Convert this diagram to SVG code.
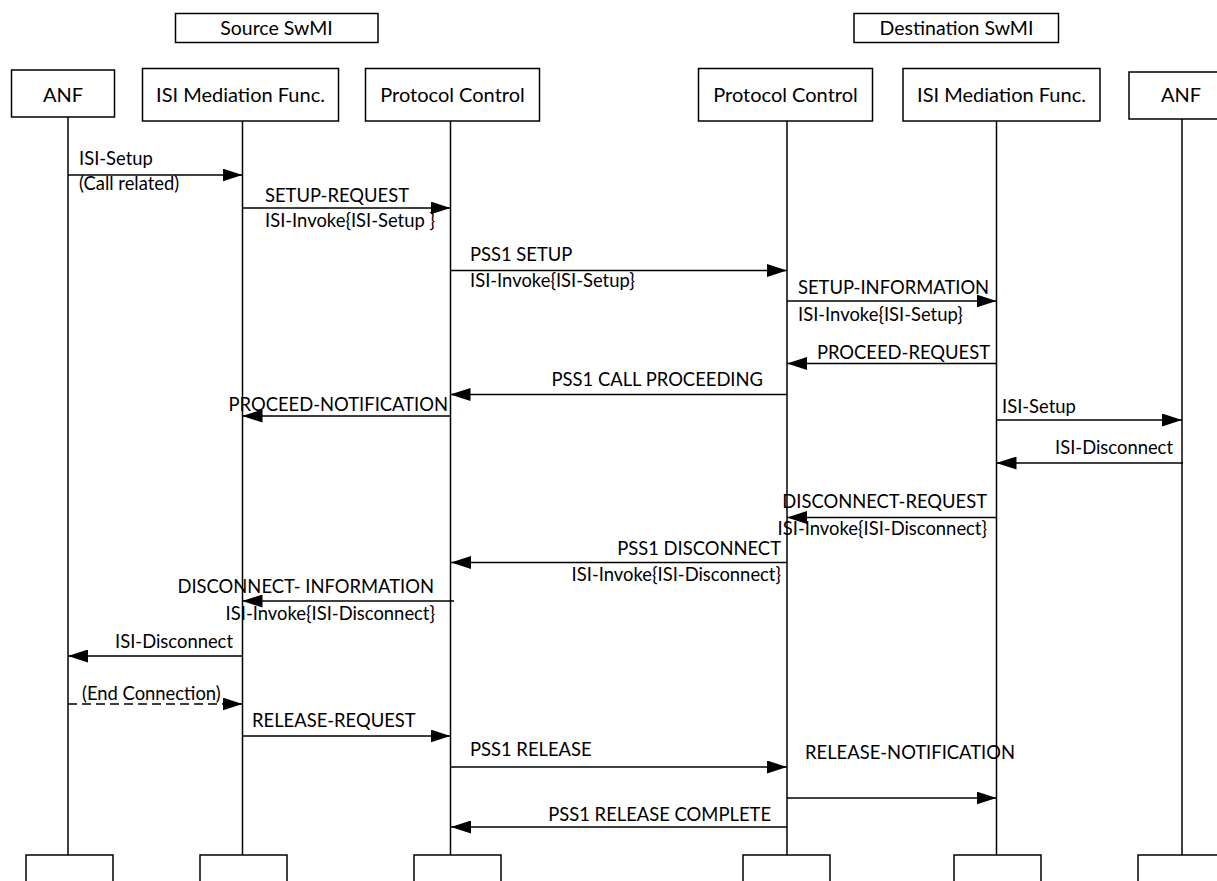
<svg xmlns="http://www.w3.org/2000/svg" width="1217" height="881" viewBox="0 0 1217 881">
<defs>
<style>
.box{fill:#fff;stroke:#000;stroke-width:1.5}
.life{stroke:#000;stroke-width:1.5;fill:none}
.msg{stroke:#000;stroke-width:1.5;fill:none;marker-end:url(#ah)}
.dash{stroke-dasharray:9,5}
text{font-family:Lato,"Open Sans","Liberation Sans",sans-serif;fill:#000}
.t{font-size:18.4px}
.n{font-size:20px;text-anchor:middle}
.h{font-size:19.5px;text-anchor:middle}
.e{text-anchor:end}
</style>
<marker id="ah" markerUnits="userSpaceOnUse" markerWidth="20" markerHeight="13" refX="20" refY="6.5" orient="auto" viewBox="0 0 20 13">
<path d="M0,0 L20,6.5 L0,13 z" fill="#000"/>
</marker>
</defs>
<rect width="1217" height="881" fill="#fff"/>
<g id="src-swmi"><rect class="box" x="175.5" y="13.5" width="202.5" height="29"/><text class="h" x="276.5" y="34.5">Source SwMI</text></g>
<g id="dst-swmi"><rect class="box" x="854" y="13.5" width="204.5" height="29"/><text class="h" x="956.5" y="34.5">Destination SwMI</text></g>
<g id="lifelines">
<line class="life" x1="68" y1="117" x2="68" y2="855"/>
<line class="life" x1="242.5" y1="121" x2="242.5" y2="855"/>
<line class="life" x1="450.5" y1="121" x2="450.5" y2="855"/>
<line class="life" x1="787" y1="121" x2="787" y2="855"/>
<line class="life" x1="996.5" y1="121" x2="996.5" y2="855"/>
<line class="life" x1="1182" y1="119" x2="1182" y2="855"/>
</g>
<g id="anf-src"><rect class="box" x="11.5" y="70" width="103" height="47"/><text class="n" x="63" y="101.5">ANF</text></g>
<g id="ismf-src"><rect class="box" x="142.5" y="68.5" width="196" height="52.5"/><text class="n" x="240.5" y="101.5">ISI Mediation Func.</text></g>
<g id="pc-src"><rect class="box" x="365.5" y="68.5" width="174" height="52.5"/><text class="n" x="452.5" y="101.5">Protocol Control</text></g>
<g id="pc-dst"><rect class="box" x="698.5" y="68.5" width="174" height="52.5"/><text class="n" x="785.5" y="101.5">Protocol Control</text></g>
<g id="ismf-dst"><rect class="box" x="903" y="68.5" width="197" height="52.5"/><text class="n" x="1001.5" y="101.5">ISI Mediation Func.</text></g>
<g id="anf-dst"><rect class="box" x="1129" y="72" width="104" height="47"/><text class="n" x="1181" y="101.5">ANF</text></g>
<g id="anf-src-end"><rect class="box" x="26" y="855" width="87" height="40"/></g>
<g id="ismf-src-end"><rect class="box" x="200" y="855" width="87" height="40"/></g>
<g id="pc-src-end"><rect class="box" x="414" y="855" width="87" height="40"/></g>
<g id="pc-dst-end"><rect class="box" x="743" y="855" width="87" height="40"/></g>
<g id="ismf-dst-end"><rect class="box" x="954" y="855" width="87" height="40"/></g>
<g id="anf-dst-end"><rect class="box" x="1138" y="855" width="87" height="40"/></g>
<g id="connectors">
<line class="msg" x1="68" y1="175" x2="242.5" y2="175"/>
<line class="msg" x1="242.5" y1="208" x2="450.5" y2="208"/>
<line class="msg" x1="450.5" y1="270.5" x2="787" y2="270.5"/>
<line class="msg" x1="787" y1="301" x2="996.5" y2="301"/>
<line class="msg" x1="996.5" y1="363.5" x2="787" y2="363.5"/>
<line class="msg" x1="787" y1="394.5" x2="450.5" y2="394.5"/>
<line class="msg" x1="450.5" y1="416" x2="242.5" y2="416"/>
<line class="msg" x1="996.5" y1="420" x2="1182" y2="420"/>
<line class="msg" x1="1183" y1="463" x2="996.5" y2="463"/>
<line class="msg" x1="996.5" y1="517.5" x2="787" y2="517.5"/>
<line class="msg" x1="787" y1="562.5" x2="451" y2="562.5"/>
<line class="msg" x1="454" y1="601" x2="242.5" y2="601"/>
<line class="msg" x1="242.5" y1="656" x2="68" y2="656"/>
<line class="msg dash" x1="68" y1="704" x2="242.5" y2="704"/>
<line class="msg" x1="242.5" y1="736" x2="450.5" y2="736"/>
<line class="msg" x1="450.5" y1="767" x2="787" y2="767"/>
<line class="msg" x1="787" y1="798" x2="996.5" y2="798"/>
<line class="msg" x1="787" y1="827" x2="451" y2="827"/>
</g>
<g id="labels" class="t">
<text x="79" y="165">ISI-Setup</text>
<text x="79" y="190">(Call related)</text>
<text x="265" y="201.5">SETUP-REQUEST</text>
<text x="265" y="227">ISI-Invoke{ISI-Setup }</text>
<text x="470" y="261">PSS1 SETUP</text>
<text x="470" y="287">ISI-Invoke{ISI-Setup}</text>
<text x="798" y="294">SETUP-INFORMATION</text>
<text x="798" y="321">ISI-Invoke{ISI-Setup}</text>
<text class="e" x="990" y="359">PROCEED-REQUEST</text>
<text class="e" x="763" y="386">PSS1 CALL PROCEEDING</text>
<text class="e" x="448" y="410.5">PROCEED-NOTIFICATION</text>
<text x="1002" y="413">ISI-Setup</text>
<text class="e" x="1173" y="454">ISI-Disconnect</text>
<text class="e" x="987" y="508">DISCONNECT-REQUEST</text>
<text class="e" x="987" y="535">ISI-Invoke{ISI-Disconnect}</text>
<text class="e" x="781" y="555">PSS1 DISCONNECT</text>
<text class="e" x="781" y="581">ISI-Invoke{ISI-Disconnect}</text>
<text class="e" x="434" y="593">DISCONNECT- INFORMATION</text>
<text class="e" x="435" y="620">ISI-Invoke{ISI-Disconnect}</text>
<text class="e" x="233" y="648">ISI-Disconnect</text>
<text x="82" y="700">(End Connection)</text>
<text x="252" y="727">RELEASE-REQUEST</text>
<text x="470" y="756">PSS1 RELEASE</text>
<text x="805" y="759">RELEASE-NOTIFICATION</text>
<text class="e" x="771" y="820.5">PSS1 RELEASE COMPLETE</text>
</g>
</svg>
